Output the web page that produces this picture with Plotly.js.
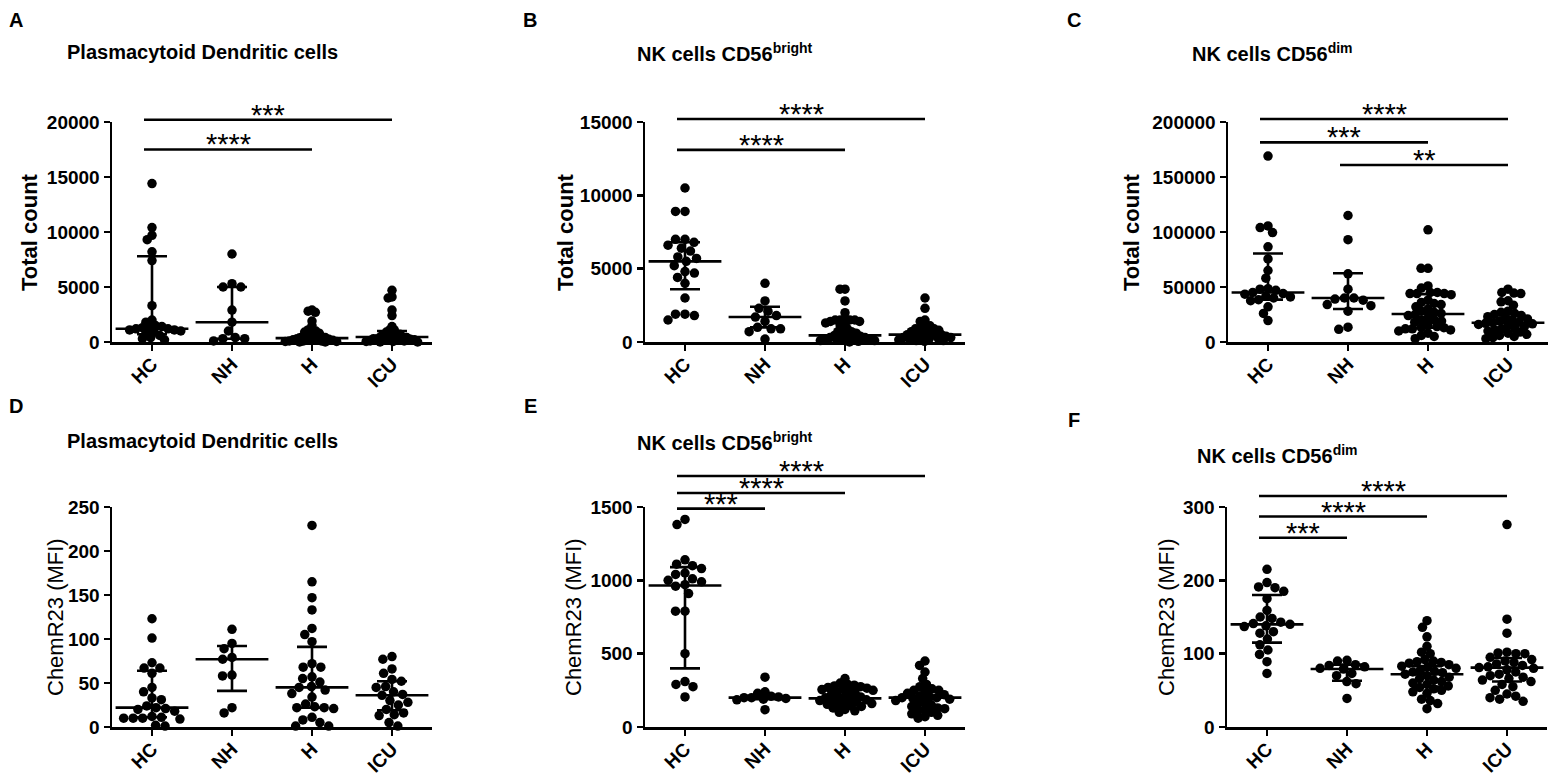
<!DOCTYPE html>
<html>
<head>
<meta charset="utf-8">
<script src="https://cdn.plot.ly/plotly-3.0.1.min.js"></script>
<style>html,body{margin:0;padding:0;background:#fff;}#chart{width:1554px;height:775px;}</style>
</head>
<body>
<div id="chart"></div>
<script>
// ---------------- DATA ----------------
const cats = ['HC', 'NH', 'H', 'ICU'];

// A: Plasmacytoid Dendritic cells, total count
const aHC  = [14400, 10400, 9700, 9300, 8200, 7400, 3300, 2000, 1800, 1500, 1400, 1300, 1300, 1200, 1200, 1100, 1100, 1000, 900, 800, 600, 400, 300, 200];
const aNH  = [8000, 5300, 5000, 5000, 2900, 1800, 1000, 400, 300, 300, 100];
const aH   = [2900, 2800, 2700, 1900, 1500, 1100, 1100, 1000, 900, 800, 700, 700, 600, 500, 500, 400, 400, 350, 300, 300, 250, 200, 200, 150, 150, 100, 100, 100, 50, 50, 0, 0];
const aICU = [4700, 4100, 4000, 2900, 2400, 1400, 1100, 1100, 900, 800, 700, 700, 600, 500, 500, 450, 400, 400, 350, 300, 300, 250, 200, 200, 150, 150, 100, 100, 50, 50, 0, 0];
const aMed = [1200, 1800, 350, 450];
const aQ1  = [700, 300, 100, 150];
const aQ3  = [7800, 5000, 650, 1000];
const aTicks = [0, 5000, 10000, 15000, 20000];
const aSig = [[0, 2, 17500, '****'], [0, 3, 20200, '***']];

// B: NK cells CD56bright, total count
const bHC  = [10500, 8900, 8900, 7000, 7000, 6800, 6600, 6400, 6200, 5800, 5700, 5500, 5200, 4800, 4700, 4400, 4000, 3000, 1900, 1900, 1800, 1500];
const bNH  = [4000, 2800, 2300, 2100, 1800, 1700, 1400, 1000, 900, 900, 700, 200];
const bH   = [3600, 3600, 2800, 2000, 1600, 1500, 1500, 1500, 1500, 1400, 1400, 1300, 1200, 1100, 900, 800, 700, 700, 600, 500, 450, 400, 400, 350, 300, 300, 250, 200, 200, 150, 150, 100, 100, 50, 0];
const bICU = [3000, 2300, 1500, 1400, 1100, 1100, 1000, 900, 900, 800, 800, 700, 700, 600, 600, 500, 500, 500, 400, 400, 400, 300, 300, 300, 200, 200, 200, 150, 100, 100, 50];
const bMed = [5500, 1700, 450, 500];
const bQ1  = [3600, 1000, 200, 250];
const bQ3  = [6800, 2400, 1500, 900];
const bTicks = [0, 5000, 10000, 15000];
const bSig = [[0, 2, 13100, '****'], [0, 3, 15200, '****']];

// C: NK cells CD56dim, total count
const cHC  = [169000, 105500, 104000, 99500, 86500, 75500, 65000, 58000, 48500, 48000, 47000, 45000, 44000, 43500, 41500, 41000, 40000, 38500, 37500, 32000, 26000, 19500];
const cNH  = [115000, 93000, 62000, 48000, 40000, 40000, 39000, 38000, 34000, 33000, 28000, 13500, 11500];
const cH   = [102000, 67000, 67000, 51000, 49000, 45000, 45000, 44000, 44000, 44000, 43000, 38000, 36000, 35000, 34000, 32000, 30000, 28000, 27000, 26000, 25000, 24000, 22000, 20000, 20000, 19000, 18000, 15000, 14000, 13000, 13000, 12000, 12000, 11000, 10000, 8000, 6000, 5000, 3000];
const cICU = [48000, 45000, 44500, 44000, 37500, 36500, 33500, 28000, 27000, 26000, 25000, 24000, 23000, 22000, 21000, 20000, 19000, 18000, 17500, 17000, 16500, 16000, 15000, 14000, 13000, 12000, 11000, 10000, 9000, 8000, 7000, 6000, 5000, 4000, 3000];
const cMed = [45000, 40000, 25500, 17500];
const cQ1  = [38500, 30000, 13000, 10000];
const cQ3  = [80500, 62500, 43500, 25500];
const cTicks = [0, 50000, 100000, 150000, 200000];
const cSig = [[0, 3, 202700, '****'], [0, 2, 181500, '***'], [1, 3, 160900, '**']];

// D: Plasmacytoid Dendritic cells, ChemR23 MFI
const dHC  = [123, 101, 73, 67, 67, 61, 45, 40, 33, 31, 24, 22, 21, 20, 18, 12, 11, 10, 10, 10, 9, 2, 1];
const dNH  = [111, 95, 89, 79, 77, 59, 58, 22, 16];
const dH   = [229, 165, 147, 133, 112, 105, 97, 72, 68, 68, 57, 55, 51, 46, 45, 42, 38, 34, 26, 23, 22, 22, 21, 11, 8, 5, 1, 1];
const dICU = [80, 77, 66, 61, 54, 52, 46, 45, 40, 37, 36, 30, 28, 25, 20, 16, 14, 13, 5, 1];
const dMed = [22, 77, 45, 36];
const dQ1  = [11, 41, 22, 19];
const dQ3  = [64, 92, 91, 52];
const dTicks = [0, 50, 100, 150, 200, 250];
const dSig = [];

// E: NK cells CD56bright, ChemR23 MFI
const eHC  = [1415, 1380, 1140, 1110, 1100, 1080, 1050, 1040, 1010, 1000, 990, 970, 960, 910, 790, 790, 500, 310, 290, 275, 205];
const eNH  = [340, 240, 230, 210, 205, 200, 200, 195, 190, 185, 118];
const eH   = [330, 300, 290, 285, 280, 275, 270, 265, 260, 255, 250, 245, 240, 230, 220, 210, 205, 200, 195, 190, 185, 180, 175, 170, 165, 160, 155, 150, 145, 140, 130, 120, 110, 100];
const eICU = [450, 420, 375, 330, 290, 275, 260, 250, 250, 240, 230, 220, 210, 205, 200, 200, 195, 190, 180, 170, 160, 150, 140, 130, 125, 120, 110, 100, 90, 80, 70, 60];
const eMed = [965, 200, 195, 200];
const eQ1  = [400, 190, 150, 130];
const eQ3  = [1090, 215, 255, 250];
const eTicks = [0, 500, 1000, 1500];
const eSig = [[0, 1, 1489, '***'], [0, 2, 1595, '****'], [0, 3, 1711, '****']];

// F: NK cells CD56dim, ChemR23 MFI
const fHC  = [215, 197, 191, 190, 185, 175, 159, 150, 148, 143, 141, 140, 138, 137, 130, 128, 120, 112, 105, 99, 89, 73];
const fNH  = [91, 90, 85, 84, 82, 80, 79, 73, 70, 62, 59, 39];
const fH   = [145, 136, 123, 110, 102, 100, 92, 90, 89, 88, 87, 85, 83, 82, 80, 78, 76, 75, 74, 72, 70, 68, 66, 64, 62, 60, 58, 56, 54, 52, 50, 48, 46, 38, 36, 32, 25];
const fICU = [276, 147, 128, 102, 101, 100, 100, 95, 92, 90, 88, 86, 84, 82, 81, 80, 78, 75, 72, 70, 68, 66, 64, 62, 58, 55, 50, 45, 42, 40, 38, 35];
const fMed = [140, 79, 72, 81];
const fQ1  = [115, 63, 55, 62];
const fQ3  = [180, 85, 83, 94];
const fTicks = [0, 100, 200, 300];
const fSig = [[0, 1, 258, '***'], [0, 2, 287, '****'], [0, 3, 315, '****']];

const titles = ['Plasmacytoid Dendritic cells', 'NK cells CD56<sup>bright</sup>', 'NK cells CD56<sup>dim</sup>',
                'Plasmacytoid Dendritic cells', 'NK cells CD56<sup>bright</sup>', 'NK cells CD56<sup>dim</sup>'];
const yTitles = ['<b>Total count</b>', '<b>Total count</b>', '<b>Total count</b>',
                 'ChemR23 (MFI)', 'ChemR23 (MFI)', 'ChemR23 (MFI)'];
const letters = ['A', 'B', 'C', 'D', 'E', 'F'];

// ---------------- LAYOUT GEOMETRY (pixels) ----------------
const W = 1554, H = 775;
const FONT = 'Liberation Sans, Arial, Helvetica, sans-serif';
const geo = [
  {xl: 112, xr: 432, yt: 122, yb: 342, tx: 202, ty: 52, yx: 30, lx: 16, ly: 20},
  {xl: 645, xr: 965, yt: 122, yb: 342, tx: 725, ty: 52, yx: 566, lx: 530, ly: 20},
  {xl: 1228, xr: 1548, yt: 122, yb: 342, tx: 1272, ty: 52, yx: 1132, lx: 1074, ly: 20},
  {xl: 112, xr: 432, yt: 507, yb: 727, tx: 202, ty: 441, yx: 55, lx: 16, ly: 406},
  {xl: 645, xr: 965, yt: 507, yb: 727, tx: 725, ty: 441, yx: 573, lx: 530, ly: 406},
  {xl: 1227, xr: 1547, yt: 507, yb: 727, tx: 1277, ty: 455, yx: 1166, lx: 1074, ly: 420}
];

const panels = [
  {groups: [aHC, aNH, aH, aICU], med: aMed, q1: aQ1, q3: aQ3, ticks: aTicks, sig: aSig},
  {groups: [bHC, bNH, bH, bICU], med: bMed, q1: bQ1, q3: bQ3, ticks: bTicks, sig: bSig},
  {groups: [cHC, cNH, cH, cICU], med: cMed, q1: cQ1, q3: cQ3, ticks: cTicks, sig: cSig},
  {groups: [dHC, dNH, dH, dICU], med: dMed, q1: dQ1, q3: dQ3, ticks: dTicks, sig: dSig},
  {groups: [eHC, eNH, eH, eICU], med: eMed, q1: eQ1, q3: eQ3, ticks: eTicks, sig: eSig},
  {groups: [fHC, fNH, fH, fICU], med: fMed, q1: fQ1, q3: fQ3, ticks: fTicks, sig: fSig}
];

// beeswarm offsets (pixels) computed from the values
function swarmOnce(vals, pxPerUnit, d) {
  const pts = [];
  const order = vals.map((v, i) => i).sort((a, b) => vals[b] - vals[a]);
  const out = new Array(vals.length).fill(0);
  for (const i of order) {
    const y = vals[i] * pxPerUnit;
    const iv = [];
    for (const p of pts) {
      const dy = Math.abs(p.y - y);
      if (dy < d) { const dx = Math.sqrt(d * d - dy * dy); iv.push([p.x - dx, p.x + dx]); }
    }
    const cands = [0];
    iv.forEach(r => cands.push(r[0], r[1]));
    cands.sort((a, b) => Math.abs(a) - Math.abs(b) || a - b);
    let x = 0;
    for (const c of cands) {
      if (iv.every(r => c <= r[0] + 1e-6 || c >= r[1] - 1e-6)) { x = c; break; }
    }
    pts.push({x: x, y: y});
    out[i] = x;
  }
  return out;
}
function swarm(vals, pxPerUnit) {
  let d = 9.5, res;
  while (true) {
    res = swarmOnce(vals, pxPerUnit, d);
    const m = Math.max.apply(null, res.map(Math.abs));
    if (m <= 30 || d <= 4) break;
    d -= 0.5;
  }
  return res;
}

const traces = [];
const layout = {
  width: W, height: H,
  margin: {l: 0, r: 0, t: 0, b: 0},
  paper_bgcolor: '#fff', plot_bgcolor: 'rgba(0,0,0,0)',
  showlegend: false,
  font: {family: FONT, color: '#000'},
  shapes: [], annotations: []
};

panels.forEach((p, k) => {
  const g = geo[k];
  const sfx = k === 0 ? '' : String(k + 1);
  const xName = 'xaxis' + sfx, yName = 'yaxis' + sfx;
  const xRef = 'x' + sfx, yRef = 'y' + sfx;
  const ymax = p.ticks[p.ticks.length - 1];
  const pxPerUnit = (g.yb - g.yt) / ymax;
  const pxPerCat = (g.xr - g.xl) / 4;
  const yd0 = 1 - g.yb / H, yd1 = 1 - g.yt / H;

  layout[xName] = {
    domain: [g.xl / W, g.xr / W], anchor: yRef, range: [-0.5, 3.5],
    tickmode: 'array', tickvals: [0, 1, 2, 3], ticktext: cats, tickangle: -45,
    showline: true, linewidth: 2.5, linecolor: '#000',
    ticks: 'outside', ticklen: 6, tickwidth: 2.5, tickcolor: '#000',
    ticklabelstandoff: -5,
    showgrid: false, zeroline: false, fixedrange: true,
    tickfont: {family: FONT, size: 19, color: '#000', weight: 'bold'}
  };
  layout[yName] = {
    domain: [yd0, yd1], anchor: xRef, range: [0, ymax],
    tickmode: 'array', tickvals: p.ticks, ticktext: p.ticks.map(String),
    showline: true, linewidth: 2.5, linecolor: '#000',
    ticks: 'outside', ticklen: 6, tickwidth: 2.5, tickcolor: '#000',
    showgrid: false, zeroline: false, fixedrange: true,
    tickfont: {family: FONT, size: 19, color: '#000', weight: 'bold'}
  };

  const xs = [], ys = [];
  p.groups.forEach((vals, gi) => {
    const off = swarm(vals, pxPerUnit);
    vals.forEach((v, j) => { xs.push(gi + off[j] / pxPerCat); ys.push(v); });
  });
  traces.push({
    type: 'scatter', mode: 'markers', x: xs, y: ys, xaxis: xRef, yaxis: yRef,
    marker: {size: 9.5, color: '#000'}, cliponaxis: false, hoverinfo: 'skip'
  });
  traces.push({
    type: 'scatter', mode: 'markers', x: [0, 1, 2, 3], y: p.med, xaxis: xRef, yaxis: yRef,
    marker: {symbol: 'line-ew', size: 52, color: '#000', line: {width: 2.6, color: '#000'}},
    error_y: {type: 'data', symmetric: false,
              array: p.q3.map((q, i) => q - p.med[i]),
              arrayminus: p.q1.map((q, i) => p.med[i] - q),
              width: 15, thickness: 2.6, color: '#000'},
    cliponaxis: false, hoverinfo: 'skip'
  });

  // significance bars
  p.sig.forEach(s => {
    const yp = yd0 + (s[2] / ymax) * (yd1 - yd0);
    layout.shapes.push({type: 'line', xref: xRef, yref: 'paper', x0: s[0] - 0.1, x1: s[1], y0: yp, y1: yp,
                        line: {color: '#000', width: 2.6}});
    layout.annotations.push({xref: xRef, yref: 'paper', x: (s[0] - 0.1 + s[1]) / 2, y: yp,
                             xanchor: 'center', yanchor: 'bottom', yshift: -13, showarrow: false,
                             text: s[3], font: {family: FONT, size: 29, color: '#000'}});
  });

  // titles
  layout.annotations.push({xref: 'paper', yref: 'paper', x: g.tx / W, y: 1 - g.ty / H,
    xanchor: 'center', yanchor: 'middle', showarrow: false, text: '<b>' + titles[k] + '</b>',
    font: {family: FONT, size: 20, color: '#000'}});
  layout.annotations.push({xref: 'paper', yref: 'paper', x: g.lx / W, y: 1 - g.ly / H,
    xanchor: 'center', yanchor: 'middle', showarrow: false, text: '<b>' + letters[k] + '</b>',
    font: {family: FONT, size: 20, color: '#000'}});
  layout.annotations.push({xref: 'paper', yref: 'paper', x: g.yx / W, y: (yd0 + yd1) / 2,
    xanchor: 'center', yanchor: 'middle', textangle: -90, showarrow: false, text: yTitles[k],
    font: {family: FONT, size: 22, color: '#000'}});
});

Plotly.newPlot('chart', traces, layout, {displayModeBar: false, staticPlot: true});
</script>
</body>
</html>
